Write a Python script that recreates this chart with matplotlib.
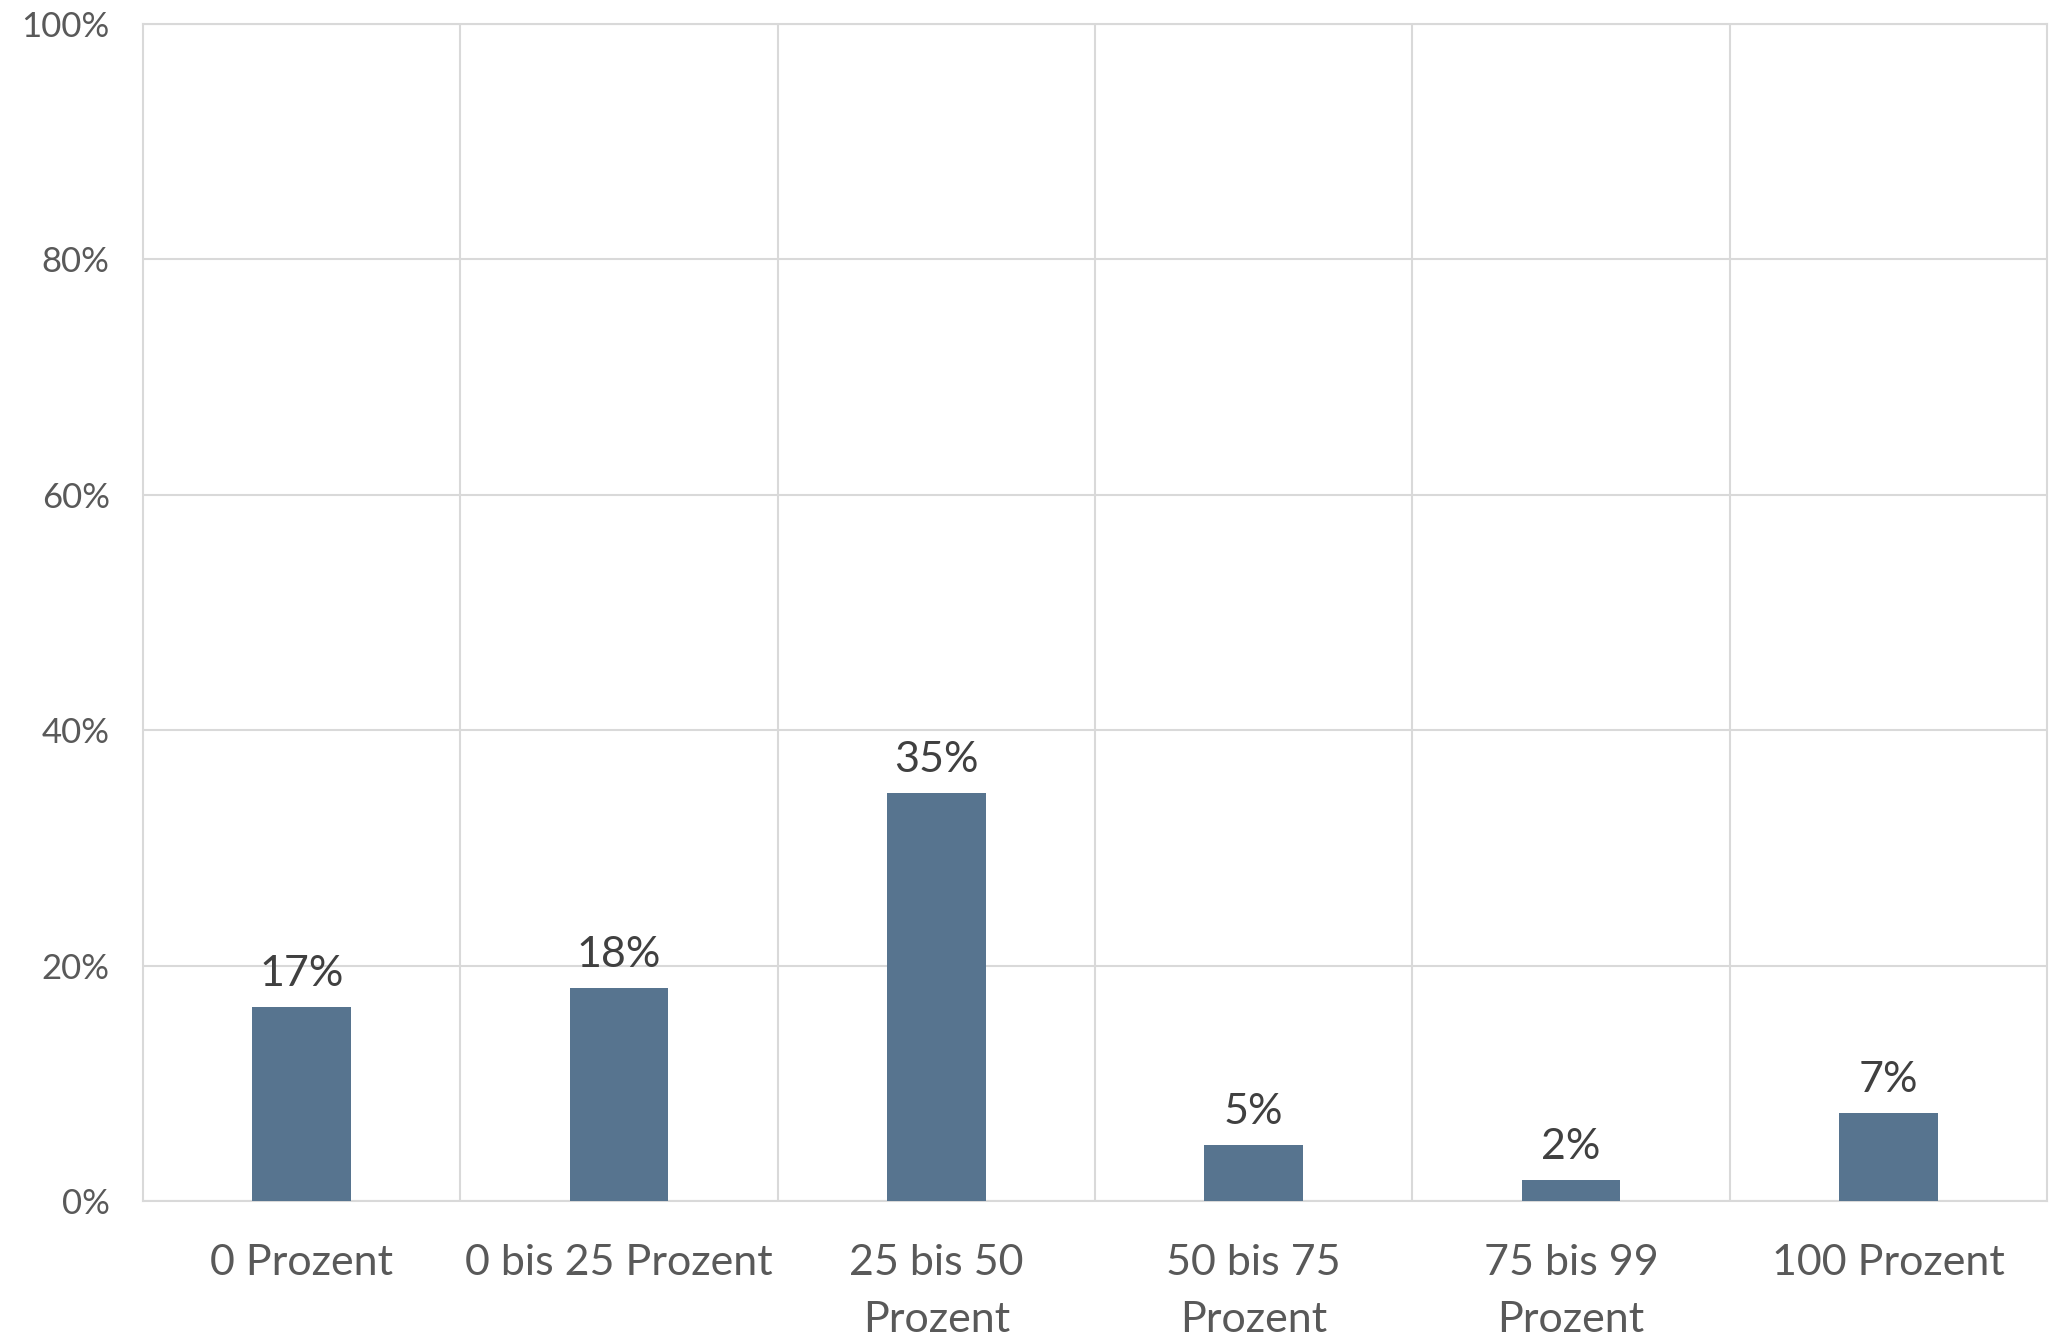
import matplotlib
matplotlib.use("Agg")
import matplotlib.pyplot as plt
from matplotlib.ticker import FuncFormatter, MultipleLocator

categories = ["0 Prozent", "0 bis 25 Prozent", "25 bis 50\nProzent",
              "50 bis 75\nProzent", "75 bis 99\nProzent", "100 Prozent"]
values = [0.165, 0.181, 0.347, 0.048, 0.018, 0.075]
labels = ["17%", "18%", "35%", "5%", "2%", "7%"]

plt.rcParams['font.family'] = ['Lato', 'DejaVu Sans']

fig = plt.figure(figsize=(20.62, 13.43), dpi=100)
ax = fig.add_axes([143/2062, 1 - 1201/1343, (2047-143)/2062, (1201-24)/1343])

x = range(len(categories))
bars = ax.bar(x, values, width=0.31, color="#57748F", zorder=3)

for xi, v, lab in zip(x, values, labels):
    ax.annotate(lab, (xi, v), xytext=(0, 10), textcoords="offset points",
                ha="center", va="bottom", fontsize=31, color="#404040")

ax.set_xlim(-0.5, len(categories) - 0.5)
ax.set_ylim(0, 1.0)
ax.yaxis.set_major_locator(MultipleLocator(0.2))
ax.yaxis.set_major_formatter(FuncFormatter(lambda v, p: f"{v*100:.0f}%"))

ax.set_xticks(list(x))
ax.set_xticklabels(categories, fontsize=31, color="#595959", linespacing=1.6)
ax.set_xticks([i + 0.5 for i in range(len(categories) - 1)], minor=True)

ax.tick_params(axis="y", length=0, pad=24, labelsize=25, labelcolor="#595959")
ax.tick_params(axis="x", which="both", length=0, pad=31)

ax.grid(axis="y", which="major", color="#D9D9D9", linewidth=1.5, zorder=0)
ax.grid(axis="x", which="minor", color="#D9D9D9", linewidth=1.5, zorder=0)
ax.grid(axis="x", which="major", visible=False)

for s in ax.spines.values():
    s.set_color("#D9D9D9")
    s.set_linewidth(1.5)

fig.savefig("out.png", dpi=100, facecolor="white")
